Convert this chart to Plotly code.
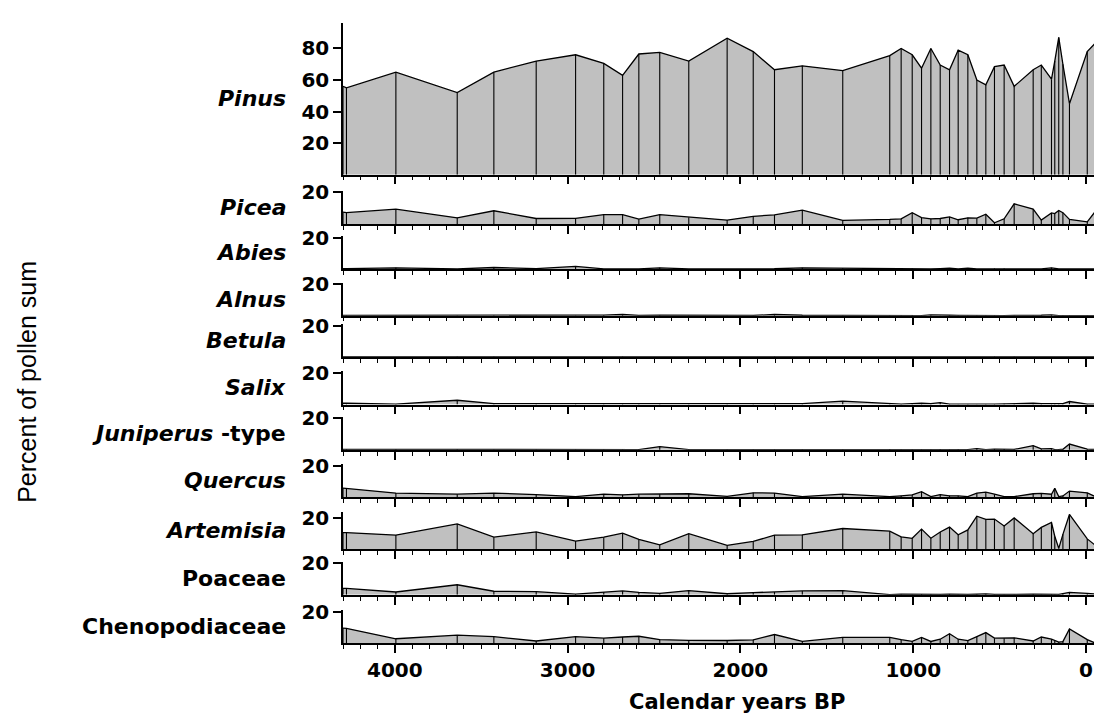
import plotly.graph_objects as go

W, H = 1094, 728

# ---------------- data ----------------
ages = [4300, 4280, 3994, 3639, 3427, 3182, 2954, 2791, 2682, 2588, 2467, 2299, 2077,
        1926, 1803, 1642, 1408, 1136, 1070, 1006, 952, 898, 844, 790, 740, 684, 632,
        580, 530, 474, 416, 306, 259, 200, 181, 158, 134, 96, -7, -50]

pinus = [56, 55, 65, 52, 65, 72, 76, 70.5, 63, 76.5, 77.5, 72, 86.5, 78, 66.5, 69, 66,
         75.5, 80, 76, 67.5, 80, 69.5, 66.5, 79, 76, 60, 57, 68.5, 69.5, 56, 66.5, 69.5,
         60.5, 72, 87, 70, 45, 78, 83]
picea = [7.5, 7.2, 9.4, 3.9, 8.4, 3.5, 3.6, 5.9, 6.0, 3.1, 6.0, 4.3, 2.5, 4.9, 5.8, 8.8,
         2.3, 2.9, 3.3, 7.2, 4.1, 3.3, 3.5, 4.5, 2.7, 3.9, 3.7, 6.2, 0.8, 3.3, 12.8, 9.5,
         2.5, 7.0, 6.6, 8.6, 7.2, 2.9, 1.4, 7.5]
abies = [0.5, 0.5, 1.0, 0.3, 1.2, 0.5, 1.9, 0.3, 0.3, 0.3, 1.0, 0.3, 0.3, 0.3, 0.4, 1.0,
         0.8, 0.3, 0.2, 0.6, 0.3, 0.3, 0.5, 0.8, 0.3, 0.8, 0.3, 0.3, 0.5, 0.5, 0.3, 0.3,
         0.3, 1.0, 0.5, 0.3, 0.3, 0.3, 0.3, 0.3]
alnus = [0.2, 0.2, 0.2, 0.1, 0.3, 0.2, 0.2, 0.4, 0.8, 0.2, 0.3, 0.2, 0.1, 0.2, 0.8, 0.3,
         0.2, 0.1, 0.2, 0.3, 0.1, 0.5, 0.2, 0.3, 0.2, 0.1, 0.2, 0.2, 0.1, 0.1, 0.2, 0.1,
         0.3, 0.5, 0.2, 0.1, 0.1, 0.1, 0.1, 0.1]
betula = [0.1, 0.1, 0.1, 0.3, 0.3, 0.1, 0.1, 0.1, 0.3, 0.1, 0.1, 0.1, 0.1, 0.1, 0.3, 0.1,
          0.1, 0.1, 0.1, 0.1, 0.1, 0.1, 0.1, 0.1, 0.1, 0.1, 0.1, 0.1, 0.3, 0.1, 0.3, 0.1,
          0.1, 0.1, 0.1, 0.1, 0.1, 0.1, 0.1, 0.1]
salix = [0.8, 0.8, 0.3, 2.7, 0.6, 0.6, 0.5, 0.3, 0.6, 0.3, 0.3, 0.4, 0.3, 0.3, 0.4, 0.5,
         2.1, 0.5, 0.3, 0.5, 0.8, 0.5, 1.2, 0.3, 0.2, 0.3, 0.2, 0.3, 0.3, 0.5, 0.5, 0.8,
         0.5, 0.5, 0.3, 0.3, 0.6, 1.9, 0.3, 0.3]
juniperus = [0.3, 0.3, 0.3, 0.2, 0.1, 0.1, 0.1, 0.1, 0.1, 0.2, 2.1, 0.2, 0.1, 0.1, 0.1,
             0.1, 0.1, 0.2, 0.1, 0.1, 0.1, 0.1, 0.2, 0.1, 0.3, 0.2, 0.8, 0.1, 0.5, 0.6,
             0.3, 2.7, 0.6, 0.8, 0.2, 0.2, 0.4, 3.7, 0.5, 0.2]
quercus = [5.8, 5.6, 2.6, 1.9, 2.6, 1.7, 0.4, 1.9, 1.5, 1.9, 1.9, 2.2, 0.5, 2.8, 2.6, 0.4,
           1.9, 0.4, 0.9, 1.5, 3.5, 0.4, 1.7, 0.9, 0.9, 0.4, 2.6, 3.2, 1.9, 0.4, 0.4, 2.2,
           2.4, 1.9, 5.6, 0.4, 0.8, 3.9, 2.8, 0.6]
artemisia = [10.7, 10.7, 9.1, 16.2, 7.8, 11.1, 5.3, 7.8, 10.4, 6.4, 2.9, 10.0, 2.6, 5.1,
             9.1, 9.3, 13.3, 11.6, 8.0, 7.1, 12.9, 7.1, 11.1, 14.2, 9.3, 12.4, 21.1, 19.1,
             19.3, 14.9, 20.0, 10.0, 14.0, 17.1, 8.4, 0.7, 9.6, 22.2, 6.7, 3.0]
poaceae = [4.1, 4.1, 1.8, 6.4, 2.3, 2.0, 0.5, 1.6, 2.5, 1.6, 0.9, 2.7, 0.7, 1.4, 1.8, 2.5,
           2.7, 0.2, 0.4, 0.3, 0.5, 0.4, 0.3, 0.5, 0.3, 0.3, 0.4, 0.6, 0.3, 0.2, 0.3, 0.5,
           0.3, 0.4, 0.3, 0.3, 0.8, 1.6, 0.9, 0.6]
chenopodiaceae = [9.6, 9.4, 2.8, 5.1, 4.1, 1.4, 4.1, 3.2, 3.9, 4.4, 2.3, 1.8, 1.7, 2.1,
                  5.5, 1.1, 3.7, 3.7, 2.3, 1.1, 3.7, 1.1, 2.5, 6.0, 2.5, 1.6, 4.1, 6.7,
                  3.2, 3.2, 3.4, 1.4, 3.9, 2.5, 1.5, 0.7, 1.0, 9.0, 2.3, 0.3]

taxon_labels = ["<b><i>Pinus</i></b>", "<b><i>Picea</i></b>", "<b><i>Abies</i></b>",
                "<b><i>Alnus</i></b>", "<b><i>Betula</i></b>", "<b><i>Salix</i></b>",
                "<b><i>Juniperus</i> -type</b>", "<b><i>Quercus</i></b>",
                "<b><i>Artemisia</i></b>", "<b>Poaceae</b>", "<b>Chenopodiaceae</b>"]
series = [pinus, picea, abies, alnus, betula, salix, juniperus, quercus, artemisia,
          poaceae, chenopodiaceae]
y_tickvals = [[20, 40, 60, 80]] + [[20]] * 10
x_range = [4300, -46]
x_dtick = 1000
x_minor_dtick = 100

# ---------------- layout geometry (pixels) ----------------
baselines = [167, 217, 263, 310, 352, 400, 446, 494, 547, 593, 642]
range_tops = [96, 21, 21, 21, 21, 21, 21, 21, 23.5, 21, 21]
PX_PER_UNIT = 1.6
X_LEFT = 343
LABEL_RIGHT = 288

FONT = "DejaVu Sans, Arial, sans-serif"
TITLE_FONT = "Liberation Sans, Arial, sans-serif"

fig = go.Figure()
layout = dict(
    width=W, height=H,
    margin=dict(l=0, r=0, t=0, b=0),
    paper_bgcolor="white", plot_bgcolor="white",
    showlegend=False,
    font=dict(family=FONT, color="black"),
)
annotations = []
n = len(series)
for i, vals in enumerate(series):
    k = "" if i == 0 else str(i + 1)
    top_px = baselines[i] - range_tops[i] * PX_PER_UNIT
    y0 = 1 - baselines[i] / H
    y1 = 1 - top_px / H
    fig.add_trace(go.Scatter(
        x=ages, y=vals, mode="lines",
        line=dict(color="black", width=1.3),
        fill="tozeroy", fillcolor="#c0c0c0",
        xaxis="x" + k, yaxis="y" + k, hoverinfo="skip"))
    vx, vy = [], []
    for a, v in zip(ages, vals):
        vx += [a, a, None]
        vy += [0, v, None]
    fig.add_trace(go.Scatter(
        x=vx, y=vy, mode="lines", line=dict(color="black", width=1.1),
        xaxis="x" + k, yaxis="y" + k, hoverinfo="skip"))
    layout["xaxis" + k] = dict(
        domain=[X_LEFT / W, 1], anchor="y" + k, range=x_range,
        showline=True, linecolor="black", linewidth=1.5,
        ticks="outside", ticklen=8, tickwidth=1.5, tickcolor="black",
        dtick=x_dtick, tick0=0,
        minor=dict(dtick=x_minor_dtick, ticks="outside", ticklen=4, tickwidth=1.2,
                   tickcolor="black", showgrid=False),
        showgrid=False, zeroline=False,
        showticklabels=(i == n - 1),
        tickfont=dict(size=20, family=FONT, weight="bold"),
    )
    if i > 0:
        layout["xaxis" + k]["matches"] = "x"
    layout["yaxis" + k] = dict(
        domain=[y0, y1], anchor="x" + k, range=[0, range_tops[i]],
        showline=True, linecolor="black", linewidth=1.5,
        ticks="outside", ticklen=8, tickwidth=1.5, tickcolor="black",
        tickvals=y_tickvals[i], showgrid=False, zeroline=False,
        tickfont=dict(size=20, family=FONT, weight="bold"),
    )
    annotations.append(dict(
        text=taxon_labels[i], xref="paper", yref="paper",
        x=LABEL_RIGHT / W, y=(y0 + y1) / 2, xanchor="right", yanchor="middle",
        showarrow=False, font=dict(size=22, family=FONT)))

annotations.append(dict(
    text="Percent of pollen sum", xref="paper", yref="paper",
    x=27 / W, y=1 - 377 / H, xanchor="center", yanchor="middle", textangle=-90,
    showarrow=False, font=dict(size=25, family=TITLE_FONT)))
annotations.append(dict(
    text="<b>Calendar years BP</b>", xref="paper", yref="paper",
    x=737 / W, y=1 - 702 / H, xanchor="center", yanchor="middle",
    showarrow=False, font=dict(size=21, family=FONT)))
layout["annotations"] = annotations
fig.update_layout(**layout)
fig.write_html("out.html")
